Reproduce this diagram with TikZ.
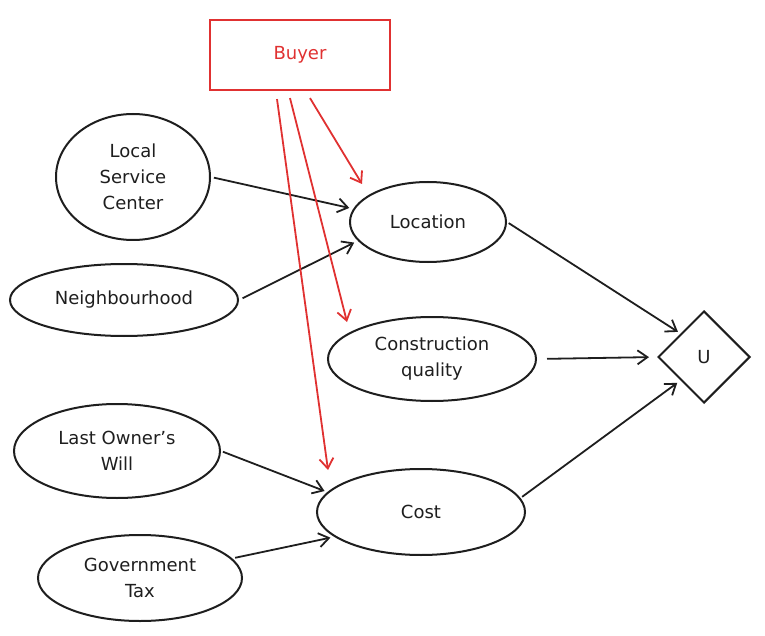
\documentclass[tikz,border=0pt]{standalone}
\usepackage{fontspec}
\setmainfont{DejaVu Sans}
\usetikzlibrary{arrows.meta,shapes.geometric}
\definecolor{ink}{HTML}{1E1E1E}
\definecolor{exred}{HTML}{E03131}
\begin{document}
\begin{tikzpicture}[x=1pt,y=-1pt,
  ell/.style={ellipse,draw=ink,line width=2pt,inner sep=0pt,align=center,text=ink,
    font=\fontsize{18}{26}\selectfont},
  arr/.style={draw=ink,line width=1.8pt,-{Straight Barb[length=10pt,width=14pt,line width=1.8pt]}},
  redarr/.style={draw=exred,line width=1.8pt,-{Straight Barb[length=10pt,width=14pt,line width=1.8pt]}}]
\useasboundingbox (0,0) rectangle (765,636);
\node[draw=exred,line width=2.2pt,minimum width=180pt,minimum height=70pt,text=exred,
  font=\fontsize{18}{20}\selectfont] (buyer) at (300,55) {Buyer};
\node[ell,minimum width=154pt,minimum height=126pt] (lsc) at (133,177) {Local\\Service\\Center};
\node[ell,minimum width=228pt,minimum height=72pt] (nb) at (124,300) {Neighbourhood};
\node[ell,minimum width=156pt,minimum height=80pt] (loc) at (428,222) {Location};
\node[ell,minimum width=208pt,minimum height=84pt] (cq) at (432,359) {Construction\\quality};
\node[diamond,draw=ink,line width=2pt,minimum width=92pt,minimum height=92pt,inner sep=0pt,
  text=ink,font=\fontsize{18}{20}\selectfont] (u) at (704,357) {U};
\node[ell,minimum width=206pt,minimum height=94pt] (low) at (117,451) {Last Owner’s\\Will};
\node[ell,minimum width=208pt,minimum height=86pt] (cost) at (421,512) {Cost};
\node[ell,minimum width=204pt,minimum height=86pt] (gt) at (140,578) {Government\\Tax};
% black connectors
\draw[arr,shorten <=3pt,shorten >=4pt] (lsc.east) -- (loc.170);
\draw[arr,shorten <=4pt,shorten >=4pt] (nb.east) -- (loc.195);
\draw[arr,shorten <=2pt,shorten >=3pt] (loc.east) -- (u.north west);
\draw[arr,shorten <=10pt,shorten >=8pt] (cq.east) -- (u.west);
\draw[arr,shorten <=2pt,shorten >=4pt] (cost.8) -- (u.south west);
\draw[arr,shorten <=2pt,shorten >=3pt] (low.east) -- (cost.168);
\draw[arr,shorten <=3pt,shorten >=4pt] (gt.12) -- (cost.196);
% red connectors
\draw[redarr] ([xshift=10pt,yshift=-7pt]buyer.south) -- ([xshift=-66pt,yshift=38pt]loc.center);
\draw[redarr] ([xshift=-10pt,yshift=-7pt]buyer.south) -- ([xshift=-85pt,yshift=37pt]cq.center);
\draw[redarr] ([xshift=-23pt,yshift=-8pt]buyer.south) -- ([xshift=-93pt,yshift=42pt]cost.center);
\end{tikzpicture}
\end{document}
